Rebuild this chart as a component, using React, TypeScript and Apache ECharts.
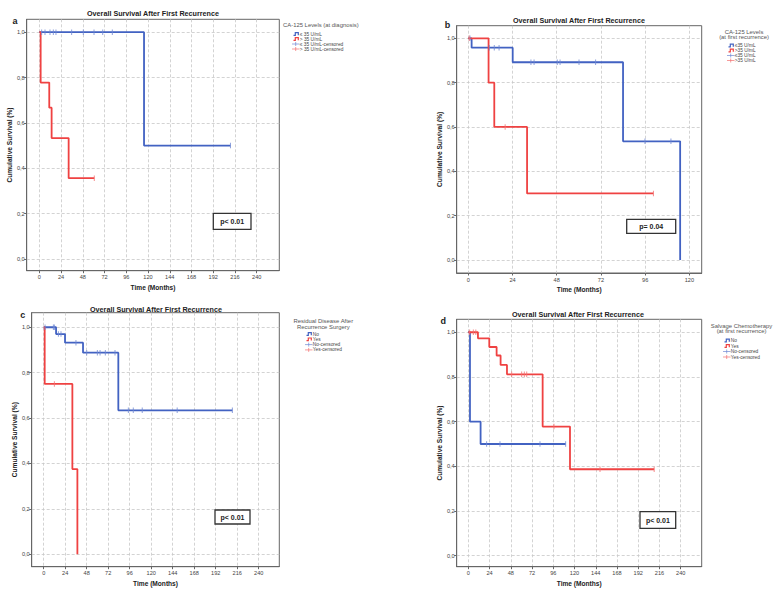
import React, { useEffect, useRef } from "react";
import * as echarts from "echarts";

const FONT = "'Liberation Sans', Arial, sans-serif";
const BLUE = "#4262c2";
const RED = "#ef4242";
const BLUE_C = "#7088d2";
const RED_C = "#f27070";

// tick labels
const xTicksLong = [0, 24, 48, 72, 96, 120, 144, 168, 192, 216, 240];
const xTicksShort = [0, 24, 48, 72, 96, 120];
const yTicks = [0, 0.2, 0.4, 0.6, 0.8, 1.0];

// Panel a: CA-125 at diagnosis
const aLowSteps = [[0, 1], [115.6, 0.5], [211, 0.5]];
const aLowCens = [[2.6, 1], [6.3, 1], [11.8, 1], [15.5, 1], [18.4, 1], [35.7, 1], [48.6, 1], [60.4, 1], [70, 1], [80.6, 1], [211, 0.5]];
const aHighSteps = [[0, 1], [1.5, 0.778], [11, 0.667], [13.6, 0.533], [32.4, 0.356], [60.7, 0.356]];
const aHighCens = [[60.7, 0.356]];

// Panel b: CA-125 at first recurrence
const bLowSteps = [[0, 1], [1.8, 0.958], [24.1, 0.892], [84, 0.535], [115, 0]];
const bLowCens = [[0.9, 1], [11.4, 0.958], [14.1, 0.958], [16.7, 0.958], [34, 0.892], [35.7, 0.892], [48.3, 0.892], [49.8, 0.892], [60.1, 0.892], [69.1, 0.892], [95.9, 0.535], [110, 0.535]];
const bHighSteps = [[0, 1], [11, 0.8], [14.1, 0.6], [31.9, 0.3], [100.5, 0.3]];
const bHighCens = [[0.5, 1], [20, 0.6], [100.5, 0.3]];

// Panel c: residual disease
const cNoSteps = [[0, 1], [13.8, 0.97], [23.8, 0.932], [43.9, 0.888], [83.3, 0.634], [210.6, 0.634]];
const cNoCens = [[1.5, 1], [10.8, 1], [11.9, 1], [16.4, 0.97], [19.3, 0.97], [36, 0.932], [48, 0.888], [59.9, 0.888], [62.9, 0.888], [68.8, 0.888], [79.6, 0.888], [94.5, 0.634], [100, 0.634], [110, 0.634], [149, 0.634], [210.6, 0.634]];
const cYesSteps = [[0, 1], [1.1, 0.75], [32, 0.375], [37.6, 0]];
const cYesCens = [[11.9, 0.75]];

// Panel d: salvage chemotherapy
const dNoSteps = [[0, 1], [1.9, 0.6], [13.9, 0.5], [110, 0.5]];
const dNoCens = [[20.7, 0.5], [35.8, 0.5], [81, 0.5], [110, 0.5]];
const dYesSteps = [[0, 1], [10.9, 0.973], [23.7, 0.934], [32, 0.896], [36.5, 0.854], [43.7, 0.812], [84, 0.578], [114.9, 0.387], [210, 0.387]];
const dYesCens = [[1.5, 1], [5.7, 1], [8.5, 1], [49, 0.812], [60.3, 0.812], [63.3, 0.812], [66, 0.812], [96.8, 0.578], [148.8, 0.387], [210, 0.387]];

type Pt = number[];
interface Panel {
  letter: string;
  box: number[]; // left, top, right, bottom
  xr: number[];
  yr: number[];
  ticks: number[];
  title: number[]; // center x, y
  letterPos: number[];
  series: { steps: Pt[]; cens: Pt[]; color: string; cColor: string }[];
  pText: string;
  pBox: number[];
  legendTitle: string[];
  legendTitleX: number;
  legendTitleAlign: string;
  legendTitleY: number[];
  legendItems: string[];
  legendIconX: number;
  legendItemY: number[];
}

const panels: Panel[] = [
  {
    letter: "a",
    box: [26.7, 19.3, 279.3, 270.7],
    xr: [-13.9, 264.9],
    yr: [-0.052, 1.057],
    ticks: xTicksLong,
    title: [153, 13],
    letterPos: [15, 20.5],
    series: [
      { steps: aLowSteps, cens: aLowCens, color: BLUE, cColor: BLUE_C },
      { steps: aHighSteps, cens: aHighCens, color: RED, cColor: RED_C },
    ],
    pText: "p< 0.01",
    pBox: [213.3, 213.3, 37.7, 16],
    legendTitle: ["CA-125 Levels (at diagnosis)"],
    legendTitleX: 283,
    legendTitleAlign: "left",
    legendTitleY: [25.3],
    legendItems: ["≤ 35 U/mL", "> 35 U/mL", "≤ 35 U/mL-censored", "> 35 U/mL-censored"],
    legendIconX: 293.5,
    legendItemY: [34, 39, 44, 49],
  },
  {
    letter: "b",
    box: [456.7, 25.7, 701.7, 273],
    xr: [-6.3, 126.7],
    yr: [-0.059, 1.057],
    ticks: xTicksShort,
    title: [579, 20],
    letterPos: [447.5, 25],
    series: [
      { steps: bLowSteps, cens: bLowCens, color: BLUE, cColor: BLUE_C },
      { steps: bHighSteps, cens: bHighCens, color: RED, cColor: RED_C },
    ],
    pText: "p= 0.04",
    pBox: [626.7, 219.3, 49, 14],
    legendTitle: ["CA-125 Levels", "(at first recurrence)"],
    legendTitleX: 744,
    legendTitleAlign: "center",
    legendTitleY: [31.5, 37.2],
    legendItems: ["≤35 U/mL", ">35 U/mL", "≤35 U/mL", ">35 U/mL"],
    legendIconX: 728.5,
    legendItemY: [45.5, 50.5, 55.5, 60.5],
  },
  {
    letter: "c",
    box: [31.7, 312.7, 279.3, 566.7],
    xr: [-13.4, 263],
    yr: [-0.055, 1.064],
    ticks: xTicksLong,
    title: [156, 309.3],
    letterPos: [22.7, 315],
    series: [
      { steps: cNoSteps, cens: cNoCens, color: BLUE, cColor: BLUE_C },
      { steps: cYesSteps, cens: cYesCens, color: RED, cColor: RED_C },
    ],
    pText: "p< 0.01",
    pBox: [215, 510, 35, 14],
    legendTitle: ["Residual Disease After", "Recurrence Surgery"],
    legendTitleX: 323.3,
    legendTitleAlign: "center",
    legendTitleY: [321, 326.5],
    legendItems: ["No", "Yes", "No-censored", "Yes-censored"],
    legendIconX: 306.5,
    legendItemY: [334, 339.3, 344.6, 349.9],
  },
  {
    letter: "d",
    box: [456.7, 319.3, 701.7, 566.7],
    xr: [-13.1, 263.7],
    yr: [-0.049, 1.058],
    ticks: xTicksLong,
    title: [578, 314.3],
    letterPos: [443.3, 320.7],
    series: [
      { steps: dNoSteps, cens: dNoCens, color: BLUE, cColor: BLUE_C },
      { steps: dYesSteps, cens: dYesCens, color: RED, cColor: RED_C },
    ],
    pText: "p< 0.01",
    pBox: [640, 511.7, 35.7, 16.6],
    legendTitle: ["Salvage Chemotherapy", "(at first recurrence)"],
    legendTitleX: 741.5,
    legendTitleAlign: "center",
    legendTitleY: [325.5, 331.2],
    legendItems: ["No", "Yes", "No-censored", "Yes-censored"],
    legendIconX: 724.5,
    legendItemY: [340.5, 346, 351.5, 357],
  },
];

const fmtY = (v: number) => v.toFixed(1).replace(".", ",");

function buildOption() {
  const grid: any[] = [];
  const xAxis: any[] = [];
  const yAxis: any[] = [];
  const series: any[] = [];
  const graphic: any[] = [];

  panels.forEach((p, i) => {
    const [l, t, r, b] = p.box;
    grid.push({
      left: l,
      top: t,
      width: r - l,
      height: b - t,
      show: true,
      borderColor: "#666",
      borderWidth: 1,
      backgroundColor: "#fff",
      containLabel: false,
      outerBoundsMode: "none",
    });
    xAxis.push({
      type: "value",
      gridIndex: i,
      min: p.xr[0],
      max: p.xr[1],
      name: "Time (Months)",
      nameLocation: "middle",
      nameGap: 13,
      nameTextStyle: { fontSize: 6.6, fontWeight: "bold", color: "#222", fontFamily: FONT },
      axisLine: { show: true, onZero: false, lineStyle: { color: "#666", width: 1 } },
      axisTick: { show: true, customValues: p.ticks, length: 2.5, lineStyle: { color: "#666" } },
      axisLabel: { customValues: p.ticks, fontSize: 5.6, color: "#444", margin: 3.5, fontFamily: FONT },
      splitLine: { show: true, lineStyle: { type: [3, 2], color: "#c8c8c8", width: 0.8 } },
    });
    yAxis.push({
      type: "value",
      gridIndex: i,
      min: p.yr[0],
      max: p.yr[1],
      name: "Cumulative Survival (%)",
      nameLocation: "middle",
      nameGap: 11,
      nameTextStyle: { fontSize: 6.6, fontWeight: "bold", color: "#222", fontFamily: FONT },
      axisLine: { show: true, onZero: false, lineStyle: { color: "#666", width: 1 } },
      axisTick: { show: true, customValues: yTicks, length: 2.5, lineStyle: { color: "#666" } },
      axisLabel: { customValues: yTicks, fontSize: 5.6, color: "#444", margin: 2, fontFamily: FONT, formatter: fmtY },
      splitLine: { show: true, lineStyle: { type: [3, 2], color: "#c8c8c8", width: 0.8 } },
    });
    p.series.forEach((s) => {
      series.push({
        type: "line",
        xAxisIndex: i,
        yAxisIndex: i,
        step: "end",
        data: s.steps,
        showSymbol: false,
        clip: false,
        lineStyle: { color: s.color, width: 1.8 },
        itemStyle: { color: s.color },
        z: 3,
      });
      series.push({
        type: "scatter",
        xAxisIndex: i,
        yAxisIndex: i,
        data: s.cens,
        symbol: "rect",
        symbolSize: [1, 5.5],
        itemStyle: { color: s.cColor },
        z: 4,
      });
    });

    // title
    graphic.push({
      type: "text",
      x: p.title[0],
      y: p.title[1],
      style: { text: "Overall Survival After First Recurrence", fontSize: 7.2, fontWeight: "bold", fontFamily: FONT, fill: "#222", align: "center", verticalAlign: "middle" },
    });
    graphic.push({
      type: "text",
      x: p.letterPos[0],
      y: p.letterPos[1],
      style: { text: p.letter, fontSize: 9, fontWeight: "bold", fontFamily: FONT, fill: "#222", align: "center", verticalAlign: "middle" },
    });
    // p-value box
    graphic.push({
      type: "rect",
      shape: { x: p.pBox[0], y: p.pBox[1], width: p.pBox[2], height: p.pBox[3] },
      style: { fill: "#fff", stroke: "#333", lineWidth: 1.3 },
      z: 10,
    });
    graphic.push({
      type: "text",
      x: p.pBox[0] + p.pBox[2] / 2,
      y: p.pBox[1] + p.pBox[3] / 2,
      style: { text: p.pText, fontSize: 7, fontWeight: "bold", fontFamily: FONT, fill: "#222", align: "center", verticalAlign: "middle" },
      z: 11,
    });
    // legend
    p.legendTitle.forEach((tl, k) => {
      graphic.push({
        type: "text",
        x: p.legendTitleX,
        y: p.legendTitleY[k],
        style: { text: tl, fontSize: 5.9, fontFamily: FONT, fill: "#555", align: p.legendTitleAlign, verticalAlign: "middle" },
      });
    });
    p.legendItems.forEach((txt, k) => {
      const ix = p.legendIconX;
      const iy = p.legendItemY[k];
      const isBlue = k % 2 === 0;
      if (k < 2) {
        graphic.push({
          type: "polyline",
          shape: { points: [[ix, iy + 1.3], [ix + 1.8, iy + 1.3], [ix + 1.8, iy - 1.3], [ix + 4.8, iy - 1.3], [ix + 4.8, iy + 1.3]] },
          style: { stroke: isBlue ? BLUE : RED, lineWidth: 1.2, fill: null },
        });
      } else {
        const c = isBlue ? BLUE_C : RED_C;
        graphic.push({ type: "line", shape: { x1: ix - 1.5, y1: iy, x2: ix + 6, y2: iy }, style: { stroke: c, lineWidth: 0.7 } });
        graphic.push({ type: "line", shape: { x1: ix + 2.2, y1: iy - 2, x2: ix + 2.2, y2: iy + 2 }, style: { stroke: c, lineWidth: 0.7 } });
      }
      graphic.push({
        type: "text",
        x: ix + 6.3,
        y: iy,
        style: { text: txt, fontSize: 4.8, fontFamily: FONT, fill: "#444", align: "left", verticalAlign: "middle" },
      });
    });
  });

  return {
    animation: false,
    backgroundColor: "#ffffff",
    textStyle: { fontFamily: FONT },
    grid,
    xAxis,
    yAxis,
    series,
    graphic,
  };
}

export default function App() {
  const ref = useRef<HTMLDivElement>(null);
  useEffect(() => {
    if (!ref.current) return;
    const chart = echarts.init(ref.current, undefined, { renderer: "svg" });
    chart.setOption(buildOption() as any);
    return () => chart.dispose();
  }, []);
  return (
    <div
      ref={ref}
      style={{ position: "fixed", left: 0, top: 0, width: 779, height: 595, background: "#fff" }}
    />
  );
}
